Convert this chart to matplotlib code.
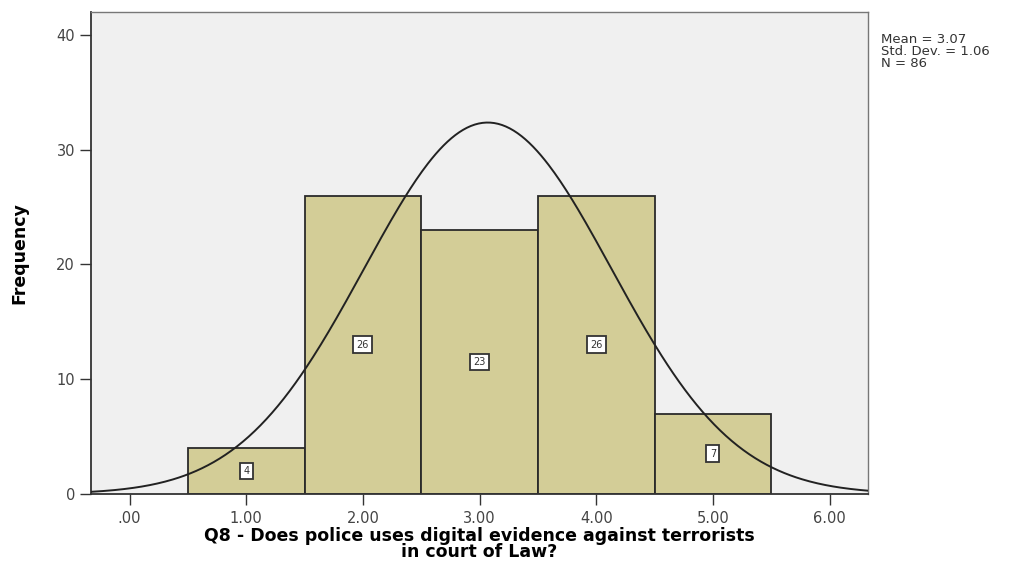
import numpy as np
import matplotlib
matplotlib.use("Agg")
import matplotlib.pyplot as plt

# Response values (1-5) and their frequencies
categories = [1, 2, 3, 4, 5]
counts = [4, 26, 23, 26, 7]
x_ticks = [0, 1, 2, 3, 4, 5, 6]
x_tick_labels = [".00", "1.00", "2.00", "3.00", "4.00", "5.00", "6.00"]
y_ticks = [0, 10, 20, 30, 40]

mean_val = 3.07
std_val = 1.06
n_val = 86

fig = plt.figure(figsize=(10.31, 5.63), dpi=100)
fig.patch.set_facecolor("white")
ax = fig.add_axes([0.0883, 0.1226, 0.7537, 0.8561])
ax.set_facecolor("#F0F0F0")

bar_color = "#D3CD97"
ax.bar(categories, counts, width=1.0, color=bar_color, edgecolor="#2a2a2a",
       linewidth=1.3, zorder=2)

# value labels in small boxes at mid-height of each bar
for c, v in zip(categories, counts):
    ax.text(c, v / 2, str(v), ha="center", va="center", fontsize=7,
            color="#333333", zorder=4,
            bbox=dict(boxstyle="square,pad=0.35", facecolor="white",
                      edgecolor="#333333", linewidth=1.3))

# normal curve scaled to counts (bin width 1)
xs = np.linspace(-0.33, 6.33, 400)
ys = n_val * 1.0 / (std_val * np.sqrt(2 * np.pi)) * np.exp(-0.5 * ((xs - mean_val) / std_val) ** 2)
ax.plot(xs, ys, color="#222222", linewidth=1.4, zorder=3)

ax.set_xlim(-0.33, 6.33)
ax.set_ylim(0, 42)
ax.set_xticks(x_ticks)
ax.set_xticklabels(x_tick_labels)
ax.set_yticks(y_ticks)
ax.tick_params(axis="both", direction="out", length=8, width=1,
               colors="#333333", labelsize=10.5, labelcolor="#444444")
ax.tick_params(axis="x", pad=4)

for side in ["top", "right"]:
    ax.spines[side].set_color("#777777")
    ax.spines[side].set_linewidth(1.0)
for side in ["left", "bottom"]:
    ax.spines[side].set_color("#333333")
    ax.spines[side].set_linewidth(1.3)

ax.set_ylabel("Frequency", fontsize=12.5, fontweight="bold",
              family="Liberation Sans Narrow", labelpad=20)
ax.set_xlabel("Q8 - Does police uses digital evidence against terrorists\nin court of Law?",
              fontsize=12.5, fontweight="bold", family="DejaVu Sans",
              linespacing=0.82, labelpad=1)

fig.text(0.8545, 0.942, "Mean = 3.07\nStd. Dev. = 1.06\nN = 86", fontsize=9.5,
         color="#333333", va="top", ha="left", linespacing=0.9)

fig.savefig("out.png", dpi=100)
